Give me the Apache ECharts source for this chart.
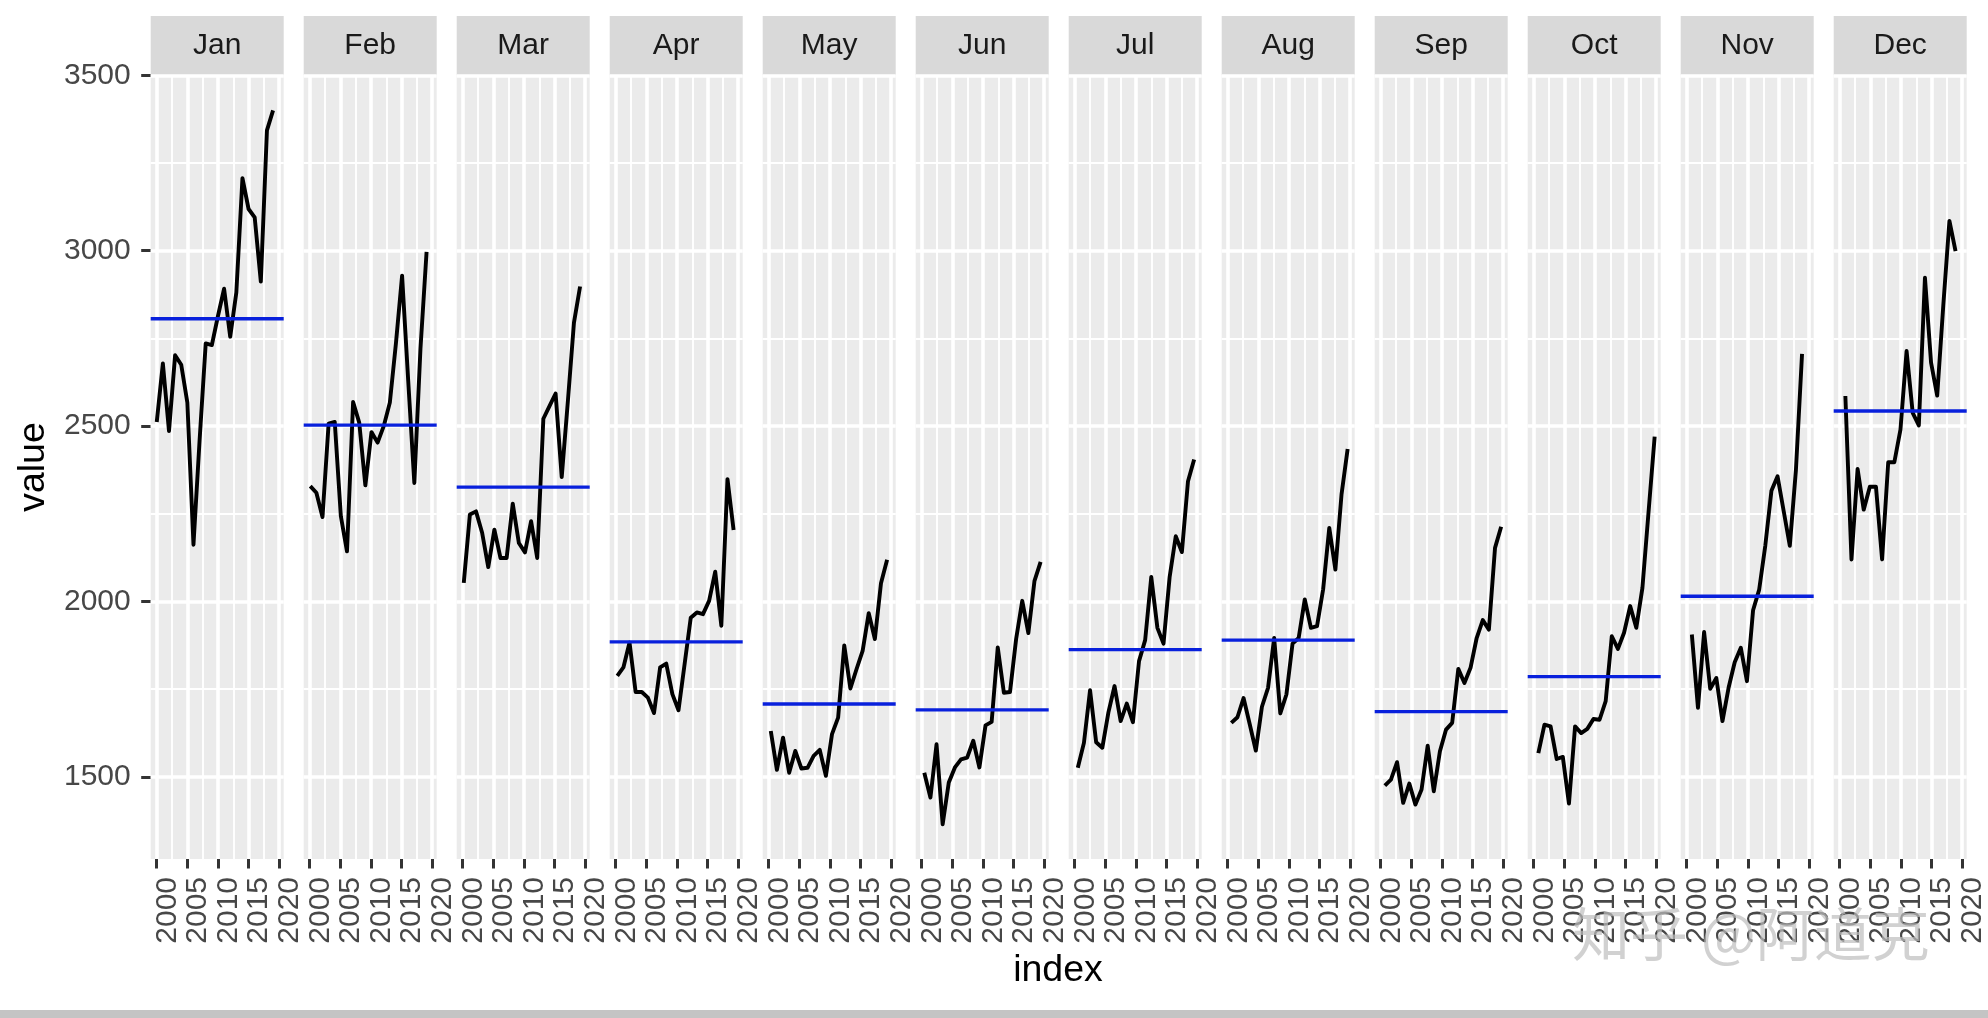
<!DOCTYPE html>
<html>
<head>
<meta charset="utf-8">
<script src="https://cdn.jsdelivr.net/npm/echarts@6/dist/echarts.min.js"></script>
<style>
html,body{margin:0;padding:0;background:#ffffff;}
#c{width:1988px;height:1018px;}
</style>
</head>
<body>
<div id="c"></div>
<script>
// ---------------- data ----------------
const months = ['Jan','Feb','Mar','Apr','May','Jun','Jul','Aug','Sep','Oct','Nov','Dec'];
const years = [2000,2001,2002,2003,2004,2005,2006,2007,2008,2009,2010,2011,2012,2013,2014,2015,2016,2017,2018,2019];

const jan = [2512,2679,2486,2702,2675,2567,2162,2460,2736,2731,2814,2892,2755,2881,3207,3119,3095,2912,3343,3400];
const feb = [2329,2310,2241,2507,2512,2243,2143,2569,2510,2331,2483,2453,2500,2567,2737,2929,2630,2338,2720,2997];
const mar = [2053,2248,2257,2196,2098,2205,2124,2124,2279,2167,2140,2229,2124,2521,2557,2593,2355,2570,2795,2898];
const apr = [1788,1812,1883,1742,1742,1726,1682,1812,1823,1736,1690,1822,1954,1969,1964,2002,2085,1931,2349,2204];
const may = [1631,1520,1612,1512,1574,1524,1526,1560,1577,1503,1622,1669,1875,1752,1807,1859,1967,1893,2052,2119];
const jun = [1512,1441,1593,1365,1484,1527,1550,1555,1603,1527,1647,1657,1869,1740,1742,1893,2002,1910,2059,2113];
const jul = [1526,1597,1747,1599,1583,1684,1759,1659,1709,1656,1830,1890,2070,1925,1880,2070,2186,2141,2343,2405];
const aug = [1654,1670,1725,1651,1575,1700,1754,1896,1681,1735,1880,1896,2006,1925,1930,2035,2210,2091,2305,2435];
const sep = [1475,1492,1542,1426,1481,1421,1464,1589,1459,1573,1635,1654,1808,1768,1811,1896,1947,1920,2153,2213];
const oct = [1568,1649,1644,1551,1557,1424,1644,1625,1637,1665,1663,1716,1901,1865,1911,1987,1925,2039,2255,2470];
const nov = [1906,1697,1913,1751,1782,1659,1754,1827,1868,1773,1975,2034,2160,2316,2357,2258,2159,2375,2706];
const dec = [2586,2120,2378,2262,2327,2327,2120,2397,2397,2490,2714,2538,2502,2923,2681,2587,2845,3085,2999];

const monthMeans = [2806,2503,2326,1885,1708,1691,1863,1890,1686,1786,2015,2543];

const xTickLabels = [2000,2005,2010,2015,2020];
const xMinorBreaks = [2002.5,2007.5,2012.5,2017.5];
const yTickLabels = [1500,2000,2500,3000,3500];
const yMinorBreaks = [1750,2250,2750,3250];

const seriesValues = [jan,feb,mar,apr,may,jun,jul,aug,sep,oct,nov,dec];

// ---------------- layout / style ----------------
const XMIN = 1999.0125, XMAX = 2020.7375;
const YMIN = 1266, YMAX = 3501;
const L0 = 150.7, PITCH = 153.0, PW = 133, PT = 75, PH = 784;
const FONT = '"Liberation Sans", Arial, Helvetica, sans-serif';
const plain = v => String(v);

const grids = [], xAxes = [], yAxes = [], series = [], graphics = [];

months.forEach((m, i) => {
  const left = L0 + PITCH * i;
  grids.push({left: left, top: PT, width: PW, height: PH, show: true,
    backgroundColor: '#EBEBEB', borderWidth: 0, containLabel: false});

  xAxes.push({
    gridIndex: i, type: 'value', min: XMIN, max: XMAX,
    axisLine: {show: false},
    splitLine: {show: false},
    axisTick: {show: true, customValues: xTickLabels, length: 9.5,
      lineStyle: {color: '#333333', width: 3}},
    axisLabel: {show: true, customValues: xTickLabels, rotate: 90, margin: 18,
      formatter: plain,
      fontSize: 30, fontFamily: FONT, color: '#474747',
      verticalAlign: 'top', lineHeight: 21}
  });

  yAxes.push({
    gridIndex: i, type: 'value', min: YMIN, max: YMAX,
    axisLine: {show: false},
    splitLine: {show: false},
    axisTick: {show: i === 0, customValues: yTickLabels, length: 9.5,
      lineStyle: {color: '#333333', width: 3}},
    axisLabel: {show: i === 0, customValues: yTickLabels, margin: 20,
      formatter: plain,
      fontSize: 30, fontFamily: FONT, color: '#474747'}
  });

  const gridData = [];
  xTickLabels.forEach(v => gridData.push({xAxis: v, lineStyle: {width: 3.6}}));
  xMinorBreaks.forEach(v => gridData.push({xAxis: v, lineStyle: {width: 1.9}}));
  yTickLabels.forEach(v => gridData.push({yAxis: v, lineStyle: {width: 3.6}}));
  yMinorBreaks.forEach(v => gridData.push({yAxis: v, lineStyle: {width: 1.9}}));

  series.push({
    type: 'line', xAxisIndex: i, yAxisIndex: i, z: 1,
    data: [[XMIN, monthMeans[i]], [XMAX, monthMeans[i]]],
    showSymbol: false, symbol: 'none', silent: true,
    lineStyle: {opacity: 0, width: 0},
    markLine: {
      z: 1, zlevel: 0,
      silent: true, symbol: ['none', 'none'], animation: false,
      label: {show: false},
      lineStyle: {color: '#FFFFFF', type: 'solid', width: 3.6},
      emphasis: {disabled: true},
      data: gridData
    }
  });

  series.push({
    type: 'line', xAxisIndex: i, yAxisIndex: i, z: 3,
    data: seriesValues[i].map((v, k) => [years[k] + i / 12, v]),
    showSymbol: false, symbol: 'none', silent: true,
    lineStyle: {color: '#000000', width: 3.9, join: 'round', cap: 'butt'}
  });

  series.push({
    type: 'line', xAxisIndex: i, yAxisIndex: i, z: 4,
    data: [[XMIN, monthMeans[i]], [XMAX, monthMeans[i]]],
    showSymbol: false, symbol: 'none', silent: true,
    lineStyle: {color: '#0820DC', width: 3.4}
  });

  graphics.push({type: 'rect', shape: {x: left, y: 16, width: PW, height: 59},
    style: {fill: '#D9D9D9'}, silent: true});
  graphics.push({type: 'text', x: left + PW / 2, y: 45.5, silent: true,
    style: {text: m, fontSize: 30, fontFamily: FONT, fill: '#1A1A1A',
      align: 'center', verticalAlign: 'middle', textAlign: 'center', textVerticalAlign: 'middle'}});
});

graphics.push({type: 'text', x: 34, y: 467, rotation: Math.PI / 2, silent: true,
  style: {text: 'value', fontSize: 37.5, fontFamily: FONT, fill: '#000000',
    align: 'center', verticalAlign: 'middle', textAlign: 'center', textVerticalAlign: 'middle'}});
graphics.push({type: 'text', x: 1058, y: 971, silent: true,
  style: {text: 'index', fontSize: 37.5, fontFamily: FONT, fill: '#000000',
    align: 'center', verticalAlign: 'middle', textAlign: 'center', textVerticalAlign: 'middle'}});
graphics.push({type: 'rect', shape: {x: 0, y: 1010, width: 1988, height: 8},
  style: {fill: '#C4C4C4'}, silent: true});
graphics.push({type: 'text', x: 1572, y: 934, silent: true, z: 100,
  style: {text: '知乎 @阿道克', fontSize: 58, fontFamily: '"Noto Sans CJK SC", sans-serif',
    fill: 'rgba(190,190,190,0.7)', align: 'left', verticalAlign: 'middle',
    textAlign: 'left', textVerticalAlign: 'middle'}});

const chart = echarts.init(document.getElementById('c'), null, {renderer: 'canvas'});
chart.setOption({
  animation: false,
  backgroundColor: '#FFFFFF',
  grid: grids,
  xAxis: xAxes,
  yAxis: yAxes,
  series: series,
  graphic: {elements: graphics}
});
</script>
</body>
</html>
